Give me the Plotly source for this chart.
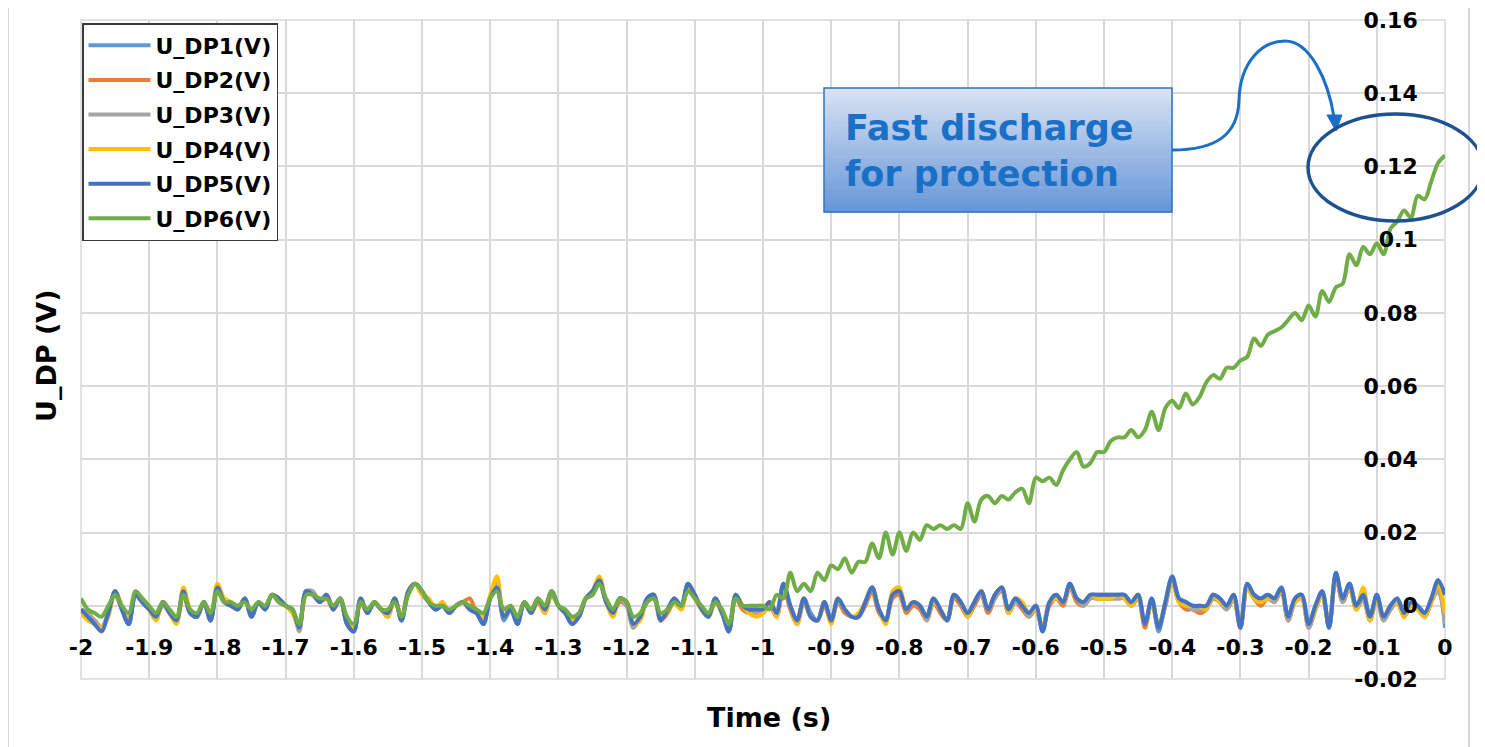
import plotly.graph_objects as go

# ---------------- data (voltages in mV, sampled every 10 ms from -2.00 s to 0.00 s) ----------------
TIME_START = -2.0
TIME_STEP = 0.01
N_SAMPLES = 201

U_DP1_mV = [
    -1, -3, -5, -6, -2, 4, -1, -5, 3, 1,
    -1, -3, 1, -2, -4, 4, -2, -3, 1, -4,
    5, 1, 0, -1, 2, -3, 1, -1, 3, 2,
    0, -1, -6, 4, 3, 1, 3, -1, 2, -5,
    -7, 2, -2, 1, -1, -2, 2, -4, 4, 6,
    4, 1, -1, 0, -2, 0, 1, -1, -2, -5,
    2, 5, -4, -1, -5, 1, -2, 2, -1, 4,
    0, -2, -5, -3, 2, 4, 7, 1, -2, 2,
    1, -5, -3, 2, 3, -4, -1, 2, 0, 6,
    3, -1, -3, 2, -2, -7, 3, 0, -1, -1,
    -1, 1, -2, 6, 0, -4, 2, -2, -4, 1,
    -4, 2, -1, -3, -3, 1, 5, -1, -4, 3,
    4, -1, 1, 0, -3, 2, -1, -4, 3, 1,
    -2, 1, 4, -1, 3, 5, -1, 2, 0, -2,
    0, -7, 1, 3, 1, 6, 2, 1, 3, 3,
    3, 3, 3, 3, 1, 3, -5, 2, -7, 1,
    8, 2, 1, 0, 0, 0, 3, 2, 0, 3,
    -6, 6, 3, 2, 3, 2, 5, -3, 2, 3,
    -5, 0, 4, -6, 9, 2, 6, 0, 3, -3,
    3, -3, 0, 2, -2, 1, 0, -2, 2, 7, -6,
]
U_DP2_mV = [
    -1, -3, -4, -6, -2, 4, -1, -4, 3, 1,
    -1, -3, 1, -2, -4, 3, -2, -3, 1, -4,
    5, 1, 0, -1, 2, -3, 1, -1, 3, 1,
    0, -1, -6, 3, 3, 1, 2, -1, 2, -4,
    -7, 1, -2, 1, -1, -3, 2, -4, 4, 6,
    4, 1, -1, 1, -2, 0, 1, 2, -2, -4,
    2, 5, -3, -1, -4, 1, -2, 1, -2, 3,
    0, -2, -4, -3, 2, 3, 7, 1, -2, 1,
    0, -6, -3, 1, 2, -4, -2, 1, -1, 5,
    2, -1, -3, 1, -2, -6, 2, -1, -2, -2,
    -2, 0, -3, 5, -1, -5, 1, -3, -4, 0,
    -4, 1, -2, -3, -3, 0, 4, -2, -4, 2,
    3, -2, 0, -1, -4, 1, -2, -4, 2, 0,
    -3, 0, 3, -2, 2, 4, -2, 1, -1, -3,
    -1, -6, 0, 2, 0, 5, 1, 0, 2, 2,
    2, 2, 2, 2, 0, 2, -6, 1, -6, 0,
    7, 1, -1, -1, -2, -1, 2, 1, -1, 2,
    -6, 5, 2, 0, 2, 1, 4, -4, 1, 2,
    -6, -1, 3, -6, 8, 1, 5, -1, 2, -4,
    2, -4, -1, 1, -3, 0, -1, -3, 1, 5, -4,
]
U_DP3_mV = [
    -1, -2, -4, -6, -2, 3, -1, -4, 3, 1,
    -1, -3, 0, -2, -4, 4, -2, -3, 1, -3,
    5, 1, 0, -1, 2, -3, 1, -1, 3, 2,
    0, -1, -7, 4, 4, 1, 3, -1, 2, -5,
    -7, 2, -2, 1, -1, -2, 2, -4, 4, 6,
    3, 1, -1, 0, -2, 0, 1, -1, -2, -4,
    2, 6, -3, -1, -4, 1, -2, 2, -2, 3,
    0, -2, -4, -3, 2, 4, 6, 1, -2, 2,
    0, -6, -3, 1, 3, -4, -1, 1, 0, 5,
    3, -1, -3, 2, -2, -6, 2, 0, -1, -2,
    -2, 1, -2, 5, 0, -4, 2, -3, -4, 1,
    -4, 1, -1, -3, -3, 1, 5, -1, -4, 3,
    4, -1, 1, 0, -4, 1, -1, -4, 3, 1,
    -2, 1, 3, -1, 2, 5, -2, 1, 0, -3,
    -1, -6, 1, 2, 1, 6, 2, 0, 2, 2,
    2, 2, 2, 2, 0, 2, -5, 1, -6, 0,
    7, 1, 0, -1, -1, -1, 2, 1, -1, 2,
    -6, 5, 2, 1, 2, 1, 4, -4, 1, 2,
    -6, -1, 3, -6, 8, 1, 5, -1, 2, -4,
    2, -4, -1, 1, -3, 0, -1, -3, 1, 4, -5,
]
U_DP4_mV = [
    -2, -4, -5, -6, -3, 4, 0, -4, 3, 2,
    -1, -4, 1, -2, -5, 5, -1, -3, 1, -3,
    6, 2, 1, -1, 2, -3, 1, -1, 3, 2,
    0, -2, -6, 4, 3, 1, 3, -1, 2, -5,
    -6, 2, -2, 1, -1, -3, 2, -3, 4, 6,
    3, 2, -1, 1, -2, 0, 1, -1, -1, -3,
    3, 8, -3, 0, -4, 1, -2, 2, -2, 4,
    0, -2, -4, -3, 2, 4, 8, 1, -3, 2,
    1, -5, -4, 2, 3, -4, -1, 1, -1, 5,
    3, -1, -3, 2, -2, -6, 3, 0, -2, -3,
    -2, 1, -3, 5, 0, -5, 2, -3, -4, 1,
    -5, 2, -1, -3, -2, 1, 5, -1, -5, 4,
    5, -1, 1, 0, -3, 1, -1, -4, 3, 1,
    -3, 1, 4, -1, 3, 5, -2, 2, 1, -2,
    -1, -6, 1, 2, 1, 5, 2, 1, 3, 2,
    2, 2, 3, 2, 0, 3, -5, 1, -5, 1,
    7, 1, 0, 0, 0, -1, 3, 1, 0, 2,
    -5, 5, 2, 1, 2, 2, 4, -3, 1, 2,
    -5, -1, 3, -5, 8, 2, 5, -1, 5, -4,
    2, -3, 0, 1, -3, 0, -1, -3, 1, 6, -2,
]
U_DP5_mV = [
    -1, -3, -5, -7, -2, 4, -1, -5, 3, 1,
    -1, -3, 1, -2, -4, 4, -2, -3, 1, -4,
    5, 1, 0, -1, 2, -3, 1, -1, 3, 2,
    0, -1, -6, 4, 3, 1, 3, -1, 2, -5,
    -7, 2, -2, 1, -1, -2, 2, -4, 4, 6,
    4, 1, -1, 0, -2, 0, 1, -1, -2, -5,
    2, 5, -3, -1, -5, 1, -2, 2, -1, 4,
    0, -2, -5, -3, 2, 4, 7, 1, -2, 2,
    1, -5, -3, 2, 3, -4, -1, 2, 0, 6,
    3, -1, -3, 2, -2, -7, 3, 0, -1, -1,
    -1, 1, -2, 6, 0, -4, 2, -3, -4, 1,
    -4, 2, -1, -3, -3, 1, 5, -1, -4, 3,
    4, -1, 1, 0, -3, 2, -1, -4, 3, 1,
    -2, 1, 4, -1, 3, 5, -1, 2, 0, -2,
    0, -7, 1, 3, 1, 6, 2, 1, 3, 3,
    3, 3, 3, 3, 1, 3, -5, 2, -6, 1,
    8, 2, 1, 0, 0, 0, 3, 2, 0, 3,
    -6, 6, 3, 2, 3, 2, 5, -3, 2, 3,
    -5, 0, 4, -6, 9, 2, 6, 0, 3, -3,
    3, -3, 0, 2, -2, 1, 0, -2, 2, 7, 3,
]
U_DP6_mV = [
    2, -1, -2, -3, 0, 3, 0, -2, 4, 2,
    0, -2, 1, -1, -3, 3, -1, -2, 1, -2,
    4, 1, 1, 0, 1, -1, 1, 0, 3, 1,
    0, -1, -5, 3, 3, 2, 2, 0, 2, -3,
    -5, 1, -1, 1, -1, -1, 1, -3, 3, 6,
    4, 1, 0, 0, -1, 0, 1, 0, -1, -2,
    2, 4, -1, 0, -3, 1, -1, 2, 0, 4,
    0, -1, -3, -2, 2, 3, 6, 2, -1, 2,
    1, -3, -2, 1, 2, -2, -1, 1, 0, 4,
    2, 0, -2, 1, -1, -5, 2, 0, 0, 0,
    0, -1, 3, 2, 9, 4, 6, 4, 9, 7,
    11, 10, 13, 9, 12, 12, 17, 13, 20, 14,
    20, 15, 20, 18, 22, 21, 22, 21, 22, 21,
    28, 23, 29, 30, 28, 30, 29, 31, 32, 28,
    35, 34, 35, 33, 37, 40, 42, 38, 39, 42,
    42, 45, 46, 46, 48, 46, 48, 53, 48, 54,
    56, 54, 58, 55, 57, 61, 63, 62, 65, 65,
    67, 68, 73, 71, 74, 75, 76, 78, 80, 78,
    82, 79, 86, 83, 87, 88, 96, 93, 98, 96,
    99, 96, 103, 105, 108, 106, 112, 111, 116, 121, 123,
]

SERIES_NAMES = ["U_DP1(V)", "U_DP2(V)", "U_DP3(V)", "U_DP4(V)", "U_DP5(V)", "U_DP6(V)"]
SERIES_MV = [U_DP1_mV, U_DP2_mV, U_DP3_mV, U_DP4_mV, U_DP5_mV, U_DP6_mV]
SERIES_COLORS = ["#5B9BD5", "#ED7D31", "#A5A5A5", "#FFC000", "#4472C4", "#70AD47"]

X_TICK_VALUES = [-2.0, -1.9, -1.8, -1.7, -1.6, -1.5, -1.4, -1.3, -1.2, -1.1, -1.0,
                 -0.9, -0.8, -0.7, -0.6, -0.5, -0.4, -0.3, -0.2, -0.1, 0.0]
X_TICK_LABELS = ["-2", "-1.9", "-1.8", "-1.7", "-1.6", "-1.5", "-1.4", "-1.3", "-1.2", "-1.1", "-1",
                 "-0.9", "-0.8", "-0.7", "-0.6", "-0.5", "-0.4", "-0.3", "-0.2", "-0.1", "0"]
Y_TICK_VALUES = [-0.02, 0.0, 0.02, 0.04, 0.06, 0.08, 0.10, 0.12, 0.14, 0.16]
Y_TICK_LABELS = ["-0.02", "0", "0.02", "0.04", "0.06", "0.08", "0.1", "0.12", "0.14", "0.16"]

time_s = [round(TIME_START + i * TIME_STEP, 2) for i in range(N_SAMPLES)]

# ---------------- layout geometry (page body has an 8px margin) ----------------
BODY = 8
W, H = 1485 - BODY, 747 - BODY
ML, MR, MT, MB = 81 - BODY, 40, 20 - BODY, 68
PW = W - ML - MR
PH = H - MT - MB


def PX(x):
    # screen pixel x -> paper fraction
    return (x - BODY - ML) / PW


def PY(y):
    # screen pixel y -> paper fraction
    return (BODY + H - MB - y) / PH


FONT = "DejaVu Sans"

fig = go.Figure()
for i, (name, vals, col) in enumerate(zip(SERIES_NAMES, SERIES_MV, SERIES_COLORS)):
    fig.add_trace(go.Scatter(
        x=time_s, y=[v / 1000.0 for v in vals], name=name, mode="lines",
        line=dict(color=col, width=4, shape="spline", smoothing=0.9),
        legendgroup=f"g{i}", hoverinfo="skip",
    ))

shapes = []
# chart outer frame lines
shapes.append(dict(type="line", xref="paper", yref="paper", x0=PX(8), x1=PX(8), y0=PY(0), y1=PY(760),
                   line=dict(color="#d9d9d9", width=2)))
shapes.append(dict(type="line", xref="paper", yref="paper", x0=PX(1469), x1=PX(1469), y0=PY(0), y1=PY(760),
                   line=dict(color="#d9d9d9", width=2)))
# plot-area border
shapes.append(dict(type="rect", xref="paper", yref="paper", x0=0, x1=1, y0=0, y1=1,
                   line=dict(color="#d9d9d9", width=1.5), layer="below"))

# gradient callout box
bx0, bx1, by0, by1 = 824, 1172, 88, 212
nseg = 40
c_top = (217, 226, 243)
c_bot = (103, 151, 216)
for k in range(nseg):
    f = k / (nseg - 1)
    r = int(c_top[0] + (c_bot[0] - c_top[0]) * f)
    g = int(c_top[1] + (c_bot[1] - c_top[1]) * f)
    b = int(c_top[2] + (c_bot[2] - c_top[2]) * f)
    ya = by0 + (by1 - by0) * k / nseg
    yb = by0 + (by1 - by0) * (k + 1) / nseg + 0.6
    shapes.append(dict(type="rect", xref="paper", yref="paper", x0=PX(bx0), x1=PX(bx1),
                       y0=PY(yb), y1=PY(ya), line=dict(width=0), fillcolor=f"rgb({r},{g},{b})"))
shapes.append(dict(type="rect", xref="paper", yref="paper", x0=PX(bx0), x1=PX(bx1),
                   y0=PY(by1), y1=PY(by0), line=dict(color="#2E75C6", width=1.5)))

# curved connector with arrow
pts = [(1172, 150), (1216, 150), (1238, 135), (1239, 100),
       (1240, 62), (1262, 41), (1285, 41),
       (1310, 41), (1328, 80), (1334, 117)]


def P(p):
    return f"{PX(p[0]):.5f},{PY(p[1]):.5f}"


path = f"M {P(pts[0])} C {P(pts[1])} {P(pts[2])} {P(pts[3])} C {P(pts[4])} {P(pts[5])} {P(pts[6])} C {P(pts[7])} {P(pts[8])} {P(pts[9])}"
shapes.append(dict(type="path", xref="paper", yref="paper", path=path,
                   line=dict(color="#1B6FC8", width=3)))
arrow = f"M {P((1327, 115))} L {P((1342, 115))} L {P((1336, 131))} Z"
shapes.append(dict(type="path", xref="paper", yref="paper", path=arrow,
                   line=dict(color="#1B6FC8", width=1), fillcolor="#1B6FC8"))
# ellipse highlight
shapes.append(dict(type="circle", xref="paper", yref="paper",
                   x0=PX(1308), x1=PX(1483), y0=PY(221), y1=PY(114),
                   line=dict(color="#1F5190", width=3.5)))

annotations = [
    dict(text="<b>Fast discharge<br>for protection</b>", xref="paper", yref="paper",
         x=PX(843), y=PY(151), xanchor="left", yanchor="middle", align="left", showarrow=False,
         font=dict(family=FONT, size=35, color="#1A6FC6")),
    dict(text="<b>U_DP (V)</b>", xref="paper", yref="paper", x=PX(46), y=PY(356),
         xanchor="center", yanchor="middle",
         textangle=-90, showarrow=False, font=dict(family=FONT, size=27, color="black")),
    dict(text="<b>Time (s)</b>", xref="paper", yref="paper", x=PX(769), y=PY(717),
         xanchor="center", yanchor="middle",
         showarrow=False, font=dict(family=FONT, size=27, color="black")),
]

fig.update_layout(
    width=W, height=H,
    margin=dict(l=ML, r=MR, t=MT, b=MB, autoexpand=False),
    paper_bgcolor="white", plot_bgcolor="white",
    shapes=shapes, annotations=annotations,
    showlegend=True,
    legend=dict(x=PX(82), y=PY(23), xanchor="left", yanchor="top",
                bgcolor="white", bordercolor="#3a3a3a", borderwidth=1.5,
                font=dict(family=FONT, size=22, color="black", weight="bold"),
                tracegroupgap=3, itemwidth=62),
    xaxis=dict(range=[-2, 0], tickvals=X_TICK_VALUES, ticktext=X_TICK_LABELS,
               anchor="free", position=(0 - (-0.02)) / 0.18, side="bottom",
               showgrid=True, gridcolor="#d9d9d9", gridwidth=1.5, zeroline=False,
               showline=False, ticks="outside", ticklen=22, tickcolor="rgba(0,0,0,0)",
               ticklabeloverflow="allow",
               tickfont=dict(family=FONT, size=22, color="black", weight="bold")),
    yaxis=dict(range=[-0.02, 0.16], tickvals=Y_TICK_VALUES, ticktext=Y_TICK_LABELS,
               anchor="free", position=0.980, side="left",
               showgrid=True, gridcolor="#d9d9d9", gridwidth=1.5, zeroline=False,
               showline=False, ticks="", ticklabeloverflow="allow",
               tickfont=dict(family=FONT, size=22, color="black", weight="bold")),
)

fig.write_html("out.html")
